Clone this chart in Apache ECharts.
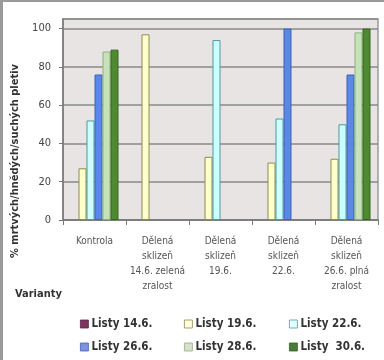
<!DOCTYPE html>
<html>
<head>
<meta charset="utf-8">
<script src="https://cdn.jsdelivr.net/npm/echarts@6/dist/echarts.min.js"></script>
<style>
  html, body { margin: 0; padding: 0; background: #fff; }
  #chart { width: 384px; height: 360px; box-sizing: border-box; border-top: 2px solid #9a9a9a; border-left: 3px solid #9a9a9a; }
</style>
</head>
<body>
<div id="chart"></div>
<script>
// Categories (harvest variants)
const categories = [
  'Kontrola',
  'Dělená\nsklizeň\n14.6. zelená\nzralost',
  'Dělená\nsklizeň\n19.6.',
  'Dělená\nsklizeň\n22.6.',
  'Dělená\nsklizeň\n26.6. plná\nzralost'
];

// Series names (leaf assessment dates)
const seriesNames = ['Listy 14.6.', 'Listy 19.6.', 'Listy 22.6.', 'Listy 26.6.', 'Listy 28.6.', 'Listy  30.6.'];

// Share of dead / brown / dry tissue, %
const listy146 = [null, null, null, null, null];
const listy196 = [27, 97, 33, 30, 32];
const listy226 = [52, null, 94, 53, 50];
const listy266 = [76, null, null, 100, 76];
const listy286 = [88, null, null, null, 98];
const listy306 = [89, null, null, null, 100];

const yTicks = [0, 20, 40, 60, 80, 100];

const fills = ['#7b3560', '#ffffcc', '#ccffff', '#5b87e6', '#c6e3b8', '#4f8a32'];
const edges = ['#5a2448', '#8c8c52', '#4f9a9a', '#3f63b4', '#8fae82', '#35661f'];
// key swatches are a touch lighter than the bars
const swatch = ['#7b3560', '#ffffe0', '#e6ffff', '#7f93dc', '#d8e0cc', '#4c7a38'];

const values = [listy146, listy196, listy226, listy266, listy286, listy306];
const FONT = 'DejaVu Sans Condensed';

const chart = echarts.init(document.getElementById('chart'), null, { renderer: 'canvas' });

const legendPos = [[72, 311], [176, 311], [281, 311], [72, 334], [176, 334], [281, 334]];

chart.setOption({
  animation: false,
  backgroundColor: '#ffffff',
  textStyle: { fontFamily: FONT },
  grid: {
    left: 60, right: 6, top: 17, bottom: 140,
    show: true, backgroundColor: '#e8e4e4', borderColor: '#9a9a9a', borderWidth: 1.5
  },
  xAxis: {
    type: 'category',
    data: categories,
    axisLine: { lineStyle: { color: '#777', width: 1.5 } },
    axisTick: { show: true, alignWithLabel: false, length: 5, lineStyle: { color: '#777' } },
    axisLabel: { color: '#555', fontSize: 10, lineHeight: 15, margin: 14, interval: 0, fontFamily: FONT }
  },
  yAxis: {
    type: 'value',
    min: 0, max: 105, interval: 20,
    axisLine: { show: true, lineStyle: { color: '#777', width: 1.5 } },
    axisTick: { show: true, length: 4, lineStyle: { color: '#777' } },
    axisLabel: {
      color: '#444', fontSize: 11, margin: 12, fontFamily: FONT, showMaxLabel: false,
      formatter: v => (yTicks.indexOf(v) >= 0 ? String(v) : '')
    },
    splitLine: { lineStyle: { color: '#8a8a8a', width: 1.5 } }
  },
  legend: seriesNames.map((n, i) => ({
    data: [{ name: n, itemStyle: { color: swatch[i], borderColor: edges[i], borderWidth: 0.8 } }],
    left: legendPos[i][0], top: legendPos[i][1],
    itemWidth: 8, itemHeight: 8, itemGap: 4,
    icon: 'rect',
    textStyle: { fontFamily: FONT, fontSize: 11.5, fontWeight: 'bold', color: '#333', padding: [0, 0, 0, -2] },
    selectedMode: false
  })),
  series: values.map((d, i) => ({
    name: seriesNames[i],
    type: 'bar',
    data: d,
    barWidth: 8,
    barGap: '0%',
    itemStyle: { color: fills[i], borderColor: edges[i], borderWidth: 1 }
  })),
  graphic: [
    {
      type: 'text', rotation: Math.PI / 2,
      x: 7, y: 256,
      style: { text: '% mrtvých/hnědých/suchých pletiv', fontFamily: FONT, fontSize: 11, fontWeight: 'bold', fill: '#333' }
    },
    {
      type: 'text', left: 12, top: 287,
      style: { text: 'Varianty', fontFamily: FONT, fontSize: 11, fontWeight: 'bold', fill: '#333' }
    }
  ]
});
</script>
</body>
</html>
